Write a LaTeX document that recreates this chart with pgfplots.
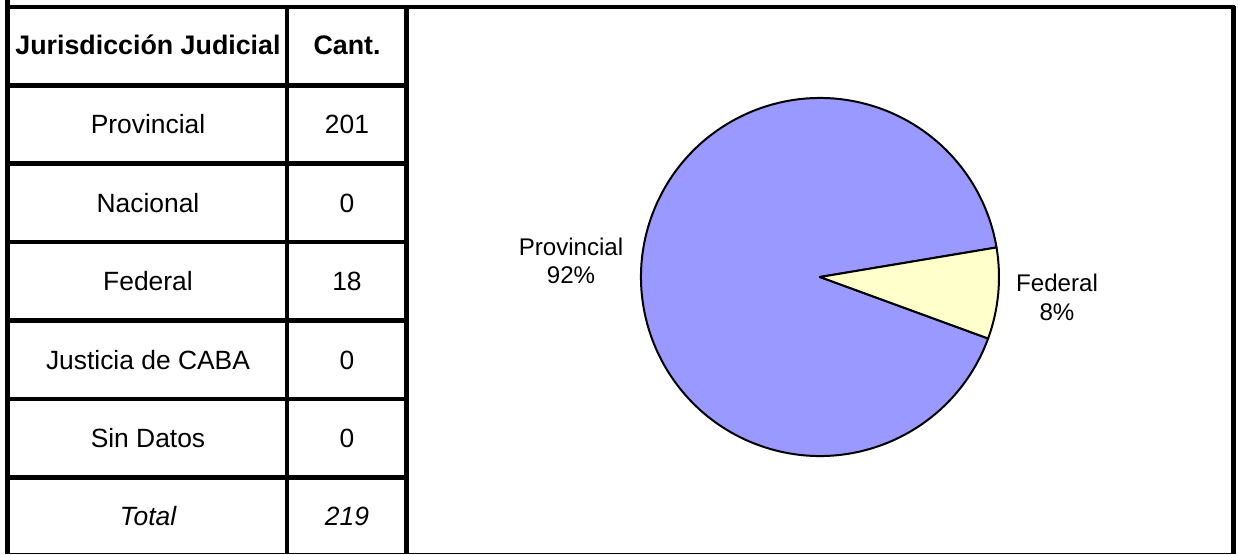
\documentclass[border=0pt]{standalone}
\usepackage{pgfplots}
\usepackage{pgfplotstable}
\pgfplotsset{compat=1.18}
\usepackage{fontspec}
\setmainfont{Liberation Sans}
\definecolor{provblue}{HTML}{9999FF}
\definecolor{fedyellow}{HTML}{FFFFCC}

\pgfplotstableread{
name count
Provincial 201
Nacional 0
Federal 18
CABA 0
SinDatos 0
}\jurtable

\pgfplotstablegetelem{0}{count}\of\jurtable \let\prov\pgfplotsretval
\pgfplotstablegetelem{1}{count}\of\jurtable \let\nac\pgfplotsretval
\pgfplotstablegetelem{2}{count}\of\jurtable \let\fed\pgfplotsretval
\pgfplotstablegetelem{3}{count}\of\jurtable \let\caba\pgfplotsretval
\pgfplotstablegetelem{4}{count}\of\jurtable \let\sind\pgfplotsretval
\pgfmathsetmacro\tot{\prov+\nac+\fed+\caba+\sind}
\pgfmathsetmacro\fedA{9.5}
\pgfmathsetmacro\fedB{\fedA-360*(\fed/\tot)}
\pgfmathsetmacro\provEnd{\fedA-360}
\pgfmathsetmacro\provPct{round(100*(\prov/\tot))}
\pgfmathsetmacro\fedPct{round(100*(\fed/\tot))}
\pgfmathtruncatemacro\provPctI{\provPct}
\pgfmathtruncatemacro\fedPctI{\fedPct}
\pgfmathtruncatemacro\totI{\tot}

\newcommand{\bodyf}{\fontsize{13.2}{15}\selectfont}
\newcommand{\headf}{\fontsize{13.4}{16}\selectfont\bfseries}
\newcommand{\pief}{\fontsize{12.05}{14.2}\selectfont}

\begin{document}
\begin{tikzpicture}
\begin{axis}[
  scale only axis, width=619pt, height=277pt,
  xmin=0, xmax=1238, ymin=0, ymax=554,
  hide axis, clip=false,
]
% invisible anchor plot keeping the axis in pixel units
\addplot[draw=none, forget plot] coordinates {(0,0) (1238,554)};

% pie
\filldraw[fill=provblue, draw=black, line width=1pt, line join=round]
  (axis cs:820,277) -- ++(\fedB:89.5pt)
  arc[start angle=\fedB, end angle=\provEnd, radius=89.5pt] -- cycle;
\filldraw[fill=fedyellow, draw=black, line width=1pt, line join=round]
  (axis cs:820,277) -- ++(\fedA:89.5pt)
  arc[start angle=\fedA, end angle=\fedB, radius=89.5pt] -- cycle;

\node[font=\pief, align=center] at (axis cs:571,293) {Provincial\\\provPctI\%};
\node[font=\pief, align=center] at (axis cs:1057,256.5) {Federal\\\fedPctI\%};

% table and frame lines
\draw[line width=2.2pt] (axis cs:6.5,547) -- (axis cs:1234.5,547);
\draw[line width=2.2pt] (axis cs:7.5,554) -- (axis cs:7.5,0);
\draw[line width=2.2pt] (axis cs:287,548) -- (axis cs:287,0);
\draw[line width=2.2pt] (axis cs:406.5,548) -- (axis cs:406.5,0);
\draw[line width=2.2pt] (axis cs:1233.5,548) -- (axis cs:1233.5,0);
\draw[line width=2.2pt] (axis cs:6.5,468.5) -- (axis cs:407.5,468.5);
\draw[line width=2.2pt] (axis cs:6.5,390.5) -- (axis cs:407.5,390.5);
\draw[line width=2.2pt] (axis cs:6.5,312) -- (axis cs:407.5,312);
\draw[line width=2.2pt] (axis cs:6.5,233.5) -- (axis cs:407.5,233.5);
\draw[line width=2.2pt] (axis cs:6.5,155) -- (axis cs:407.5,155);
\draw[line width=2.2pt] (axis cs:6.5,76.5) -- (axis cs:407.5,76.5);
\draw[line width=0.5pt] (axis cs:5,0.5) -- (axis cs:1236,0.5);

% table text
\node[font=\headf] at (axis cs:148,509) {Jurisdicción Judicial};
\node[font=\headf] at (axis cs:347,509) {Cant.};
\node[font=\bodyf] at (axis cs:148,429.5) {Provincial};
\node[font=\bodyf] at (axis cs:347,429.5) {\prov};
\node[font=\bodyf] at (axis cs:148,351) {Nacional};
\node[font=\bodyf] at (axis cs:347,351) {\nac};
\node[font=\bodyf] at (axis cs:148,272.5) {Federal};
\node[font=\bodyf] at (axis cs:347,272.5) {\fed};
\node[font=\bodyf] at (axis cs:148,194) {Justicia de CABA};
\node[font=\bodyf] at (axis cs:347,194) {\caba};
\node[font=\bodyf] at (axis cs:148,116) {Sin Datos};
\node[font=\bodyf] at (axis cs:347,116) {\sind};
\node[font=\bodyf\itshape] at (axis cs:148,38) {Total};
\node[font=\bodyf\itshape] at (axis cs:347,38) {\totI};

\coordinate (SW) at (rel axis cs:0,0);
\coordinate (NE) at (rel axis cs:1,1);
\end{axis}
\pgfresetboundingbox
\useasboundingbox (SW) rectangle (NE);
\end{tikzpicture}
\end{document}
